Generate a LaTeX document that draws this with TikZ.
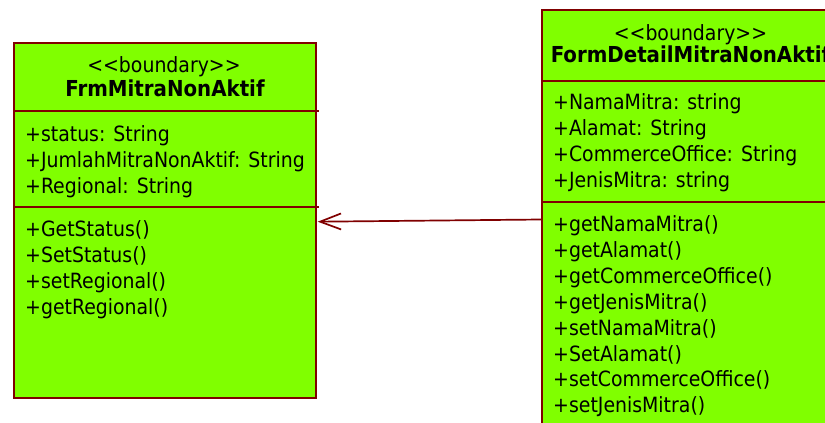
\documentclass[tikz,border=0pt]{standalone}
\usepackage{fontspec}
\setmainfont{DejaVu Sans Condensed}[Ligatures=TeXOff]
\usetikzlibrary{arrows.meta}
\definecolor{umlfill}{RGB}{128,255,0}
\definecolor{umlline}{RGB}{128,0,0}

\begin{document}
\begin{tikzpicture}[x=1pt,y=-1pt,
  classbox/.style={draw=umlline, fill=umlfill, line width=1.7pt, inner sep=0pt,
                   anchor=north west},
  divider/.style={draw=umlline, line width=1.7pt},
  member/.style={anchor=base west, inner sep=0pt, font=\fontsize{21}{26}\selectfont},
  stereo/.style={anchor=base, inner sep=0pt, font=\fontsize{21}{26}\selectfont},
  classname/.style={anchor=base, inner sep=0pt, font=\fontsize{22}{26}\selectfont\bfseries},
  dep/.style={draw=umlline, line width=1.7pt,
              -{Straight Barb[length=21pt,width=16pt]}}
]
\useasboundingbox (0,0) rectangle (825,423);
\clip (0,0) rectangle (825,423);

% class FrmMitraNonAktif
\node[classbox, minimum width=302pt, minimum height=355pt] (lbox) at (13,42) {};
\draw[divider] ([yshift=-69pt]lbox.north west) -- ([yshift=-69pt,xshift=2pt]lbox.north east);
\draw[divider] ([yshift=-165pt]lbox.north west) -- ([yshift=-165pt,xshift=2pt]lbox.north east);
\node[stereo]    (lstereo) at (164,72) {<<boundary>>};
\node[classname] (lname)   at (165,96) {FrmMitraNonAktif};
\node[member] (la1) at (25,141) {+status: String};
\node[member] (la2) at (25,167) {+JumlahMitraNonAktif: String};
\node[member] (la3) at (25,193) {+Regional: String};
\node[member] (lm1) at (25,236.7) {+GetStatus()};
\node[member] (lm2) at (25,262.7) {+SetStatus()};
\node[member] (lm3) at (25,288.7) {+setRegional()};
\node[member] (lm4) at (25,314.7) {+getRegional()};

% class FormDetailMitraNonAktif
\node[classbox, minimum width=299pt, minimum height=450pt] (rbox) at (541,9) {};
\draw[divider] ([yshift=-72pt]rbox.north west) -- ([yshift=-72pt]rbox.north east);
\draw[divider] ([yshift=-192.7pt]rbox.north west) -- ([yshift=-192.7pt]rbox.north east);
\node[stereo]    (rstereo) at (690.5,40) {<<boundary>>};
\node[classname] (rname)   at (690.5,62) {FormDetailMitraNonAktif};
\node[member] (ra1) at (553,109.5) {+NamaMitra: string};
\node[member] (ra2) at (553,135.5) {+Alamat: String};
\node[member] (ra3) at (553,161.5) {+CommerceOffice: String};
\node[member] (ra4) at (553,187.5) {+JenisMitra: string};
\node[member] (rm1) at (553,231) {+getNamaMitra()};
\node[member] (rm2) at (553,257) {+getAlamat()};
\node[member] (rm3) at (553,283) {+getCommerceOffice()};
\node[member] (rm4) at (553,309) {+getJenisMitra()};
\node[member] (rm5) at (553,335) {+setNamaMitra()};
\node[member] (rm6) at (553,361) {+SetAlamat()};
\node[member] (rm7) at (553,386.5) {+setCommerceOffice()};
\node[member] (rm8) at (553,412) {+setJenisMitra()};

% dependency from the detail form to the list form
\coordinate (depsrc) at ([yshift=-210.5pt]rbox.north west);
\coordinate (deptgt) at ([yshift=-179.7pt,xshift=1pt]lbox.north east);
\draw[dep] (depsrc) -- (deptgt);
\end{tikzpicture}
\end{document}
